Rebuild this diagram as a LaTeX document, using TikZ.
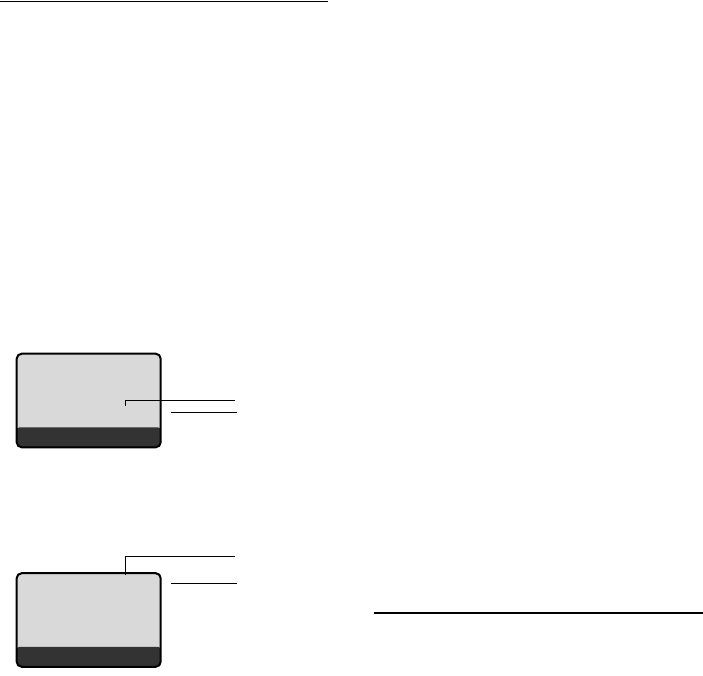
\documentclass[tikz,border=0pt]{standalone}
\usetikzlibrary{positioning,calc}
\definecolor{scr}{HTML}{D9D9D9}
\definecolor{bar}{HTML}{333333}
\tikzset{
  screen/.style={draw=black,line width=2pt,rounded corners=5pt,fill=scr,inner sep=0pt,outer sep=0pt,
    minimum width=144pt,minimum height=93.6pt,
    path picture={\fill[bar] ($(path picture bounding box.south west)+(-2pt,20pt)$) rectangle ($(path picture bounding box.south east)+(2pt,-2pt)$);}},
  lead/.style={line width=1pt,draw=black},
  rule/.style={line width=1.5pt,draw=black},
}
\begin{document}
\begin{tikzpicture}[x=1pt,y=-1pt]
\useasboundingbox (0,0) rectangle (703,676);
% rules
\coordinate (ta) at (0,1.3);
\coordinate (tb) at (328,1.3);
\draw[rule] (ta) -- (tb);
\coordinate (ba) at (374,613);
\coordinate (bb) at (703,613);
\draw[rule] (ba) -- (bb);
% first screen
\node[screen] (scr1) at (88.7,400.5) {};
\coordinate (m1) at (125.7,405.7);
\coordinate (e1) at (235,400);
\coordinate (f1a) at (171,412);
\coordinate (f1b) at (237,412);
\draw[lead] (m1) |- (e1);
\draw[lead] (f1a) -- (f1b);
% second screen
\node[screen] (scr2) at (88.7,620) {};
\coordinate (m2) at (125.7,575);
\coordinate (e2) at (235,556.7);
\coordinate (f2a) at (171,583.3);
\coordinate (f2b) at (237,583.3);
\draw[lead] (m2) |- (e2);
\draw[lead] (f2a) -- (f2b);
\end{tikzpicture}
\end{document}
